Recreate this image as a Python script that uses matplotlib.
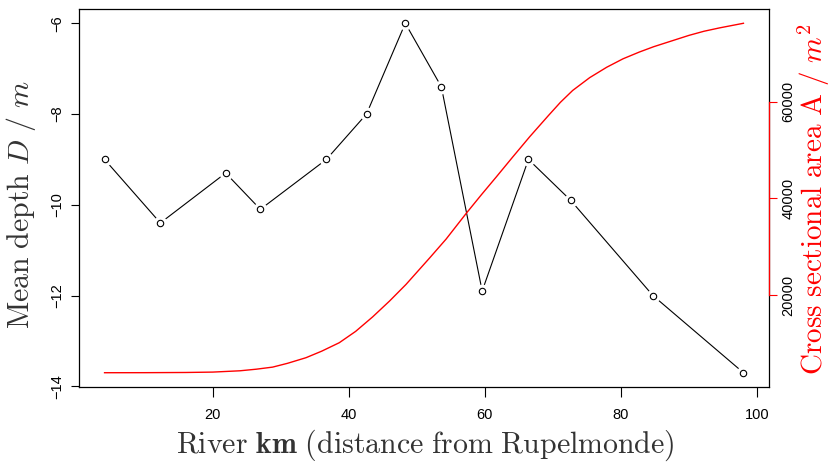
import matplotlib
matplotlib.use("Agg")
import matplotlib.pyplot as plt

plt.rcParams['mathtext.fontset'] = 'cm'
plt.rcParams['font.family'] = ['Liberation Sans', 'DejaVu Sans']

# Mean depth data (black, left axis)
km = [4.1, 12.3, 21.9, 27.0, 36.7, 42.6, 48.3, 53.6, 59.6, 66.4, 72.6, 84.7, 98.0]
depth = [-9.0, -10.4, -9.3, -10.1, -9.0, -8.0, -6.0, -7.4, -11.9, -9.0, -9.9, -12.0, -13.7]

# Cross sectional area (red, right axis)
area_km = [4.1, 10, 16, 20, 24, 26.4, 28.8, 31.0, 33.7, 36.0, 38.6, 41.0, 43.5, 46.0,
           48.4, 51.9, 54.3, 57.3, 59.5, 61.7, 64.1, 66.6, 69.3, 71.1, 72.9, 75.4,
           77.9, 80.3, 82.7, 84.8, 86.9, 90.0, 92.2, 94.5, 98.0]
area = [3950, 3960, 4000, 4080, 4350, 4680, 5110, 5900, 7055, 8400, 10160, 12500,
        15500, 18800, 22210, 27730, 31600, 37000, 40800, 44500, 48600, 52800, 57100,
        59900, 62350, 65000, 67150, 68900, 70300, 71400, 72350, 73750, 74600, 75300, 76250]

x_ticks = [20, 40, 60, 80, 100]
depth_ticks = [-14, -12, -10, -8, -6]
area_ticks = [20000, 40000, 60000]

W, H = 833, 462
fig = plt.figure(figsize=(W / 100, H / 100), dpi=100)
left, right, top, bottom = 79, 769, 9.3, 386.7
ax = fig.add_axes([left / W, 1 - bottom / H, (right - left) / W, (bottom - top) / H])


def padded(vals):
    lo, hi = min(vals), max(vals)
    r = hi - lo
    return lo - 0.04 * r, hi + 0.04 * r


ax.plot(km, depth, color='black', lw=0.8, zorder=2)
ax.plot(km, depth, ls='none', marker='o', ms=10, mfc='white', mec='none', zorder=3)
ax.plot(km, depth, ls='none', marker='o', ms=4.6, mfc='none', mec='black', mew=0.8, zorder=4)
ax.set_xlim(*padded(km))
ax.set_ylim(*padded(depth))
ax.set_xticks(x_ticks)
ax.set_yticks(depth_ticks)
ax.tick_params(axis='x', direction='out', length=7, width=0.8, pad=8, labelsize=10.5)
ax.tick_params(axis='y', direction='out', length=5.5, width=0.8, pad=5, labelsize=10.5,
               labelrotation=90)
for t in ax.get_yticklabels():
    t.set_va('center')
for s in ax.spines.values():
    s.set_linewidth(0.9)
    s.set_color('black')

ax2 = ax.twinx()
ax2.set_position(ax.get_position())
ax2.plot(area_km, area, color='#ff0000', lw=1.0)
ax2.set_ylim(*padded(area))
ax2.set_yticks(area_ticks)
ax2.tick_params(axis='y', direction='out', length=5.5, width=0.8, pad=3.5, labelsize=10.5,
                labelrotation=90, color='#ff0000', labelcolor='black')
for t in ax2.get_yticklabels():
    t.set_va('center')
for k in ['top', 'bottom', 'left']:
    ax2.spines[k].set_visible(False)
ax2.spines['right'].set_color('#ff0000')
ax2.spines['right'].set_linewidth(0.9)
ax2.spines['right'].set_bounds(area_ticks[0], area_ticks[-1])

fig.text(21 / W, 1 - 205 / H, r"$\mathrm{Mean\ depth}\ D\ /\ m$", rotation=90,
         ha='center', va='center', fontsize=21.5, color='#333333')
fig.text(425 / W, 1 - 445 / H, r"$\mathrm{River}\ \mathbf{km}\ \mathrm{(distance\ from\ Rupelmonde)}$",
         ha='center', va='center', fontsize=21.5, color='#333333')
fig.text(813.5 / W, 1 - 199 / H, r"$\mathrm{Cross\ sectional\ area\ A}\ /\ m^2$", rotation=90,
         ha='center', va='center', fontsize=21, color='#ff0000')

fig.savefig("out.png", dpi=100)
